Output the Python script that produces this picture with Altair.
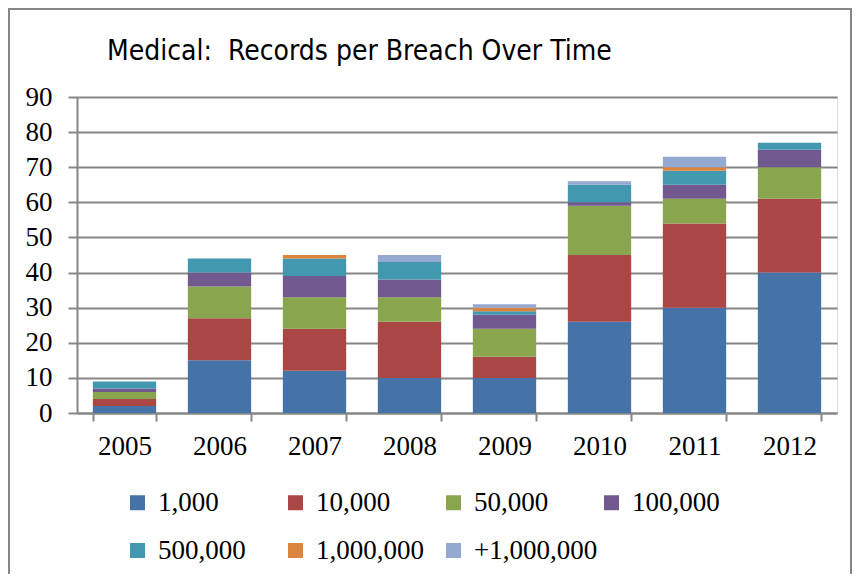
import altair as alt
import pandas as pd

years = ["2005", "2006", "2007", "2008", "2009", "2010", "2011", "2012"]
series_names = ["1,000", "10,000", "50,000", "100,000", "500,000", "1,000,000", "+1,000,000"]
s_1k = [2, 15, 12, 10, 10, 26, 30, 40]
s_10k = [2, 12, 12, 16, 6, 19, 24, 21]
s_50k = [2, 9, 9, 7, 8, 14, 7, 9]
s_100k = [1, 4, 6, 5, 4, 1, 4, 5]
s_500k = [2, 4, 5, 5, 1, 5, 4, 2]
s_1m = [0, 0, 1, 0, 1, 0, 1, 0]
s_over1m = [0, 0, 0, 2, 1, 1, 3, 0]
series_values = [s_1k, s_10k, s_50k, s_100k, s_500k, s_1m, s_over1m]
colors = ["#4572A7", "#AA4643", "#89A54E", "#71588F", "#4198AF", "#DB843D", "#93A9CF"]
title_text = "Medical:\u00a0 Records per Breach Over Time"

rows = []
for i, (name, vals) in enumerate(zip(series_names, series_values)):
    for yr, v in zip(years, vals):
        rows.append({"year": yr, "series": name, "idx": i, "count": v})
df = pd.DataFrame(rows)

SERIF = "Liberation Serif"
GRAY = "#868686"

bars = alt.Chart(df).mark_bar().encode(
    x=alt.X(
        "year:N", title=None, sort=years,
        scale=alt.Scale(paddingInner=1 / 3, paddingOuter=1 / 6),
        axis=alt.Axis(labelAngle=0, tickBand="extent", tickSize=8, labelPadding=12,
                      domainColor=GRAY, domainWidth=2, tickColor=GRAY, tickWidth=2,
                      labelFont=SERIF, labelFontSize=27, labelColor="black", grid=False),
    ),
    y=alt.Y(
        "count:Q", stack="zero", title=None,
        scale=alt.Scale(domain=[0, 90], nice=False),
        axis=alt.Axis(values=list(range(0, 91, 10)), tickSize=9, labelPadding=16,
                      domainColor=GRAY, domainWidth=2, tickColor=GRAY, tickWidth=2,
                      grid=True, gridColor=GRAY, gridWidth=2,
                      labelFont=SERIF, labelFontSize=27, labelColor="black"),
    ),
    color=alt.Color(
        "series:N",
        scale=alt.Scale(domain=series_names, range=colors),
        legend=alt.Legend(title=None, orient="none", legendX=47, legendY=392, columns=4,
                          direction="horizontal",
                          symbolType="square", symbolSize=225, symbolStrokeWidth=0,
                          labelFont=SERIF, labelFontSize=27, labelColor="black",
                          columnPadding=0, rowPadding=20, labelOffset=7,
                          gridAlign="all", padding=0),
    ),
    order=alt.Order("idx:Q", sort="ascending"),
)

title = alt.Chart(pd.DataFrame({"t": [title_text]})).mark_text(
    align="left", baseline="alphabetic", font="DejaVu Sans Condensed, Liberation Sans",
    fontSize=28, fontWeight="normal", color="black"
).encode(text="t:N", x=alt.value(30), y=alt.value(-37))

border = alt.Chart(pd.DataFrame({"a": [0]})).mark_rect(
    fillOpacity=0, stroke=GRAY, strokeWidth=2
).encode(x=alt.value(-68), x2=alt.value(774), y=alt.value(-88), y2=alt.value(520))

chart = alt.layer(border, bars, title).properties(
    width=760, height=316,
    padding={"left": 69, "top": 89, "right": 15, "bottom": 161},
    autosize=alt.AutoSizeParams(type="none"),
).configure_view(stroke=None).configure(background="white")

chart.save("out.html", embed_options={"renderer": "svg", "actions": False})
